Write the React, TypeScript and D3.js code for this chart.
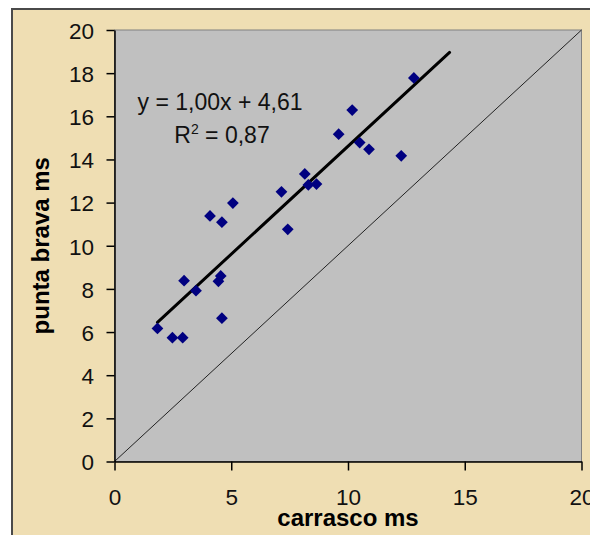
import React, { useEffect, useRef } from "react";
import * as d3 from "d3";

// ---- data ----
const carrasco = [1.84, 2.48, 2.92, 2.98, 3.49, 4.09, 4.6, 5.07, 4.45, 4.55, 4.6, 7.15, 7.42, 8.15, 8.3, 8.65, 9.6, 10.18, 10.5, 10.9, 12.28, 12.82];
const puntaBrava = [6.17, 5.74, 5.74, 8.38, 7.92, 11.38, 11.09, 11.98, 8.35, 8.6, 6.64, 12.5, 10.76, 13.33, 12.82, 12.86, 15.17, 16.29, 14.78, 14.47, 14.17, 17.78];
const trendSlope = 1.0;
const trendIntercept = 4.61;
const trendRange = [1.84, 14.35];
const identityRange = [0, 20];
const xTicks = [0, 5, 10, 15, 20];
const yTicks = [0, 2, 4, 6, 8, 10, 12, 14, 16, 18, 20];
const xTitle = "carrasco ms";
const yTitle = "punta brava ms";
const eqLine1 = "y = 1,00x + 4,61";
const r2Label = "0,87";

const W = 590;
const H = 535;
const FONT = "'Liberation Sans', Arial, sans-serif";

export default function App() {
  const xAxisRef = useRef<SVGGElement>(null);
  const yAxisRef = useRef<SVGGElement>(null);

  const x = d3.scaleLinear().domain([0, 20]).range([114.5, 581.5]);
  const y = d3.scaleLinear().domain([0, 20]).range([461.5, 30]);

  useEffect(() => {
    if (xAxisRef.current) {
      const g = d3.select(xAxisRef.current);
      g.call(
        d3.axisBottom(x).tickValues(xTicks).tickSize(9).tickSizeOuter(0).tickFormat(d3.format("d"))
      );
      g.select(".domain").attr("stroke", "#000").attr("stroke-width", 1.5);
      g.selectAll(".tick line").attr("stroke", "#000").attr("stroke-width", 1.5);
      g.selectAll(".tick text")
        .attr("y", 43.5)
        .attr("dy", 0)
        .attr("fill", "#111")
        .style("font-size", "22.5px")
        .style("font-family", FONT);
    }
    if (yAxisRef.current) {
      const g = d3.select(yAxisRef.current);
      g.call(
        d3.axisLeft(y).tickValues(yTicks).tickSize(8).tickSizeOuter(0).tickFormat(d3.format("d"))
      );
      g.select(".domain").attr("stroke", "#000").attr("stroke-width", 1.5);
      g.selectAll(".tick line").attr("stroke", "#000").attr("stroke-width", 1.5);
      g.selectAll(".tick text")
        .attr("x", -20.5)
        .attr("dy", 8.3)
        .attr("fill", "#111")
        .style("font-size", "22.5px")
        .style("font-family", FONT);
    }
  }, []);

  const [x0, x1] = x.range();
  const [yb, yt] = y.range();

  const trendLine = d3
    .line<number>()
    .x((d) => x(d))
    .y((d) => y(trendSlope * d + trendIntercept));
  const identityLine = d3
    .line<number>()
    .x((d) => x(d))
    .y((d) => y(d));

  const diamond = d3.symbol().type(d3.symbolSquare).size(69)();

  return (
    <svg
      width={W}
      height={H}
      style={{ position: "absolute", left: 0, top: 0, background: "#fff" }}
    >
      {/* chart area */}
      <rect x={12} y={9} width={W + 20} height={H + 20} fill="#EFDEB3" stroke="#4a4a4a" strokeWidth={2} />
      {/* plot area */}
      <rect x={x0} y={yt} width={x1 - x0} height={yb - yt} fill="#C0C0C0" stroke="#808080" strokeWidth={1} />
      {/* identity line */}
      <path d={identityLine(identityRange) || ""} fill="none" stroke="#222" strokeWidth={1} />
      {/* trend line */}
      <path d={trendLine(trendRange) || ""} fill="none" stroke="#000" strokeWidth={3} strokeLinecap="round" />
      {/* points */}
      {carrasco.map((cx, i) => (
        <path
          key={i}
          d={diamond || ""}
          transform={`translate(${x(cx)},${y(puntaBrava[i])}) rotate(45)`}
          fill="#000080"
        />
      ))}
      <g ref={xAxisRef} transform={`translate(0,${yb})`} />
      <g ref={yAxisRef} transform={`translate(${x0},0)`} />
      {/* equation */}
      <text x={220} y={110} textAnchor="middle" fontFamily={FONT} fontSize={23} fill="#111">
        {eqLine1}
      </text>
      <text x={222} y={143} textAnchor="middle" fontFamily={FONT} fontSize={23} fill="#111">
        R
        <tspan fontSize={14} dy={-9}>2</tspan>
        <tspan dy={9}>{` = ${r2Label}`}</tspan>
      </text>
      {/* axis titles */}
      <text
        x={(x0 + x1) / 2}
        y={526}
        textAnchor="middle"
        fontFamily={FONT}
        fontSize={24}
        fontWeight="bold"
        fill="#000"
      >
        {xTitle}
      </text>
      <text
        transform={`translate(49,${(yb + yt) / 2}) rotate(-90)`}
        textAnchor="middle"
        fontFamily={FONT}
        fontSize={24}
        fontWeight="bold"
        fill="#000"
      >
        {yTitle}
      </text>
    </svg>
  );
}
